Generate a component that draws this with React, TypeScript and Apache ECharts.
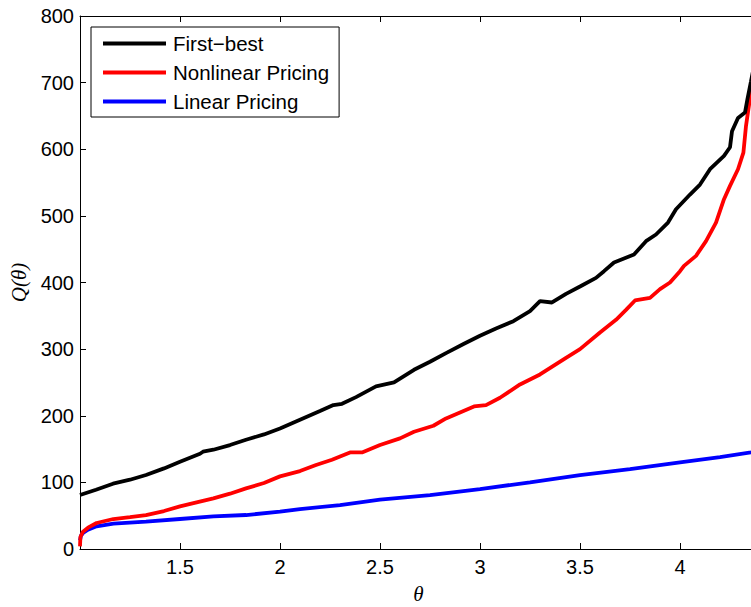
import React, { useEffect, useRef } from "react";
import * as echarts from "echarts";

const thetaFirstBest = [1.0, 1.08, 1.165, 1.25, 1.33, 1.42, 1.5, 1.6, 1.615, 1.667, 1.75, 1.83, 1.92, 2.0, 2.1, 2.2, 2.267, 2.31, 2.38, 2.48, 2.57, 2.67, 2.75, 2.83, 2.92, 3.0, 3.08, 3.167, 3.25, 3.3, 3.36, 3.43, 3.5, 3.58, 3.62, 3.67, 3.72, 3.77, 3.83, 3.88, 3.94, 3.98, 4.05, 4.1, 4.15, 4.22, 4.25, 4.26, 4.29, 4.325, 4.337, 4.355, 4.37];
const qFirstBest = [81, 89, 98, 104, 111, 121, 131, 143, 146, 149, 156, 164, 172, 181, 194, 207, 216, 218, 228, 244, 250, 269, 281, 294, 308, 320, 331, 342, 357, 372, 370, 383, 394, 407, 417, 430, 436, 442, 462, 472, 490, 510, 532, 547, 570, 590, 603, 627, 647, 655, 675, 702, 725];

const thetaNonlinear = [1.0, 1.002, 1.015, 1.04, 1.083, 1.167, 1.25, 1.33, 1.42, 1.5, 1.583, 1.667, 1.75, 1.83, 1.92, 2.0, 2.1, 2.18, 2.26, 2.35, 2.41, 2.5, 2.6, 2.67, 2.767, 2.83, 2.97, 3.03, 3.1, 3.2, 3.3, 3.43, 3.5, 3.6, 3.68, 3.73, 3.775, 3.85, 3.9, 3.95, 4.0, 4.02, 4.08, 4.13, 4.18, 4.22, 4.25, 4.29, 4.317, 4.33, 4.342, 4.355, 4.37];
const qNonlinear = [4, 18, 26, 32, 39, 45, 48, 51, 57, 64, 70, 76, 83, 91, 99, 109, 117, 126, 134, 145, 145, 156, 166, 176, 185, 196, 214, 216, 227, 247, 262, 287, 300, 325, 344, 359, 373, 377, 390, 400, 417, 425, 440, 462, 490, 525, 545, 570, 595, 635, 660, 686, 710];

const thetaLinear = [1.0, 1.005, 1.015, 1.04, 1.083, 1.167, 1.33, 1.5, 1.667, 1.83, 2.0, 2.1, 2.3, 2.5, 2.75, 3.0, 3.25, 3.5, 3.75, 4.0, 4.2, 4.355, 4.37];
const qLinear = [13, 20, 24, 29, 34, 38, 41, 45, 49, 51, 56, 60, 66, 74, 81, 90, 100, 111, 120, 130, 138, 145, 146];

const seriesNames = ["First\u2212best", "Nonlinear Pricing", "Linear Pricing"];
const seriesColors = ["#000000", "#ff0000", "#0000ff"];

const X_MIN = 1;
const X_MAX = 4.385;
const X_INTERVAL = 0.5;
const Y_MIN = 0;
const Y_MAX = 800;
const Y_INTERVAL = 100;

const pairs = (xs: number[], ys: number[]) => xs.map((x, i) => [x, ys[i]]);

const FONT = "Liberation Sans, Arial, Helvetica, sans-serif";
const SERIF = "Liberation Serif, DejaVu Serif, serif";

export default function App() {
  const ref = useRef<HTMLDivElement>(null);
  useEffect(() => {
    if (!ref.current) return;
    const chart = echarts.init(ref.current, undefined, { renderer: "svg" });
    const axisCommon = {
      axisLine: { show: true, onZero: false, lineStyle: { color: "#000", width: 1 } },
      axisTick: { show: true, inside: true, length: 6, lineStyle: { color: "#000", width: 1 } },
      splitLine: { show: false },
    };
    const dataSets = [
      pairs(thetaFirstBest, qFirstBest),
      pairs(thetaNonlinear, qNonlinear),
      pairs(thetaLinear, qLinear),
    ];
    chart.setOption({
      animation: false,
      backgroundColor: "#fff",
      grid: { left: 80, top: 16, bottom: 58, right: -6, containLabel: false, outerBoundsMode: "none" },
      legend: {
        orient: "vertical",
        left: 91,
        top: 27,
        backgroundColor: "#fff",
        borderColor: "#000",
        borderWidth: 1,
        borderRadius: 0,
        padding: [6, 10, 5, 12],
        itemGap: 8,
        itemWidth: 63,
        itemHeight: 4,
        icon: "rect",
        data: seriesNames,
        textStyle: { fontFamily: FONT, fontSize: 20.5, color: "#000", lineHeight: 20, padding: [0, 0, 0, 2] },
      },
      xAxis: [
        {
          type: "value",
          min: X_MIN,
          max: X_MAX,
          interval: X_INTERVAL,
          position: "bottom",
          name: "\u03b8",
          nameLocation: "middle",
          nameGap: 34,
          nameTextStyle: { fontFamily: SERIF, fontStyle: "italic", fontSize: 21, color: "#000" },
          ...axisCommon,
          axisLabel: {
            show: true,
            showMinLabel: false,
            showMaxLabel: false,
            margin: 8,
            fontFamily: FONT,
            fontSize: 20,
            color: "#000",
          },
        },
        {
          type: "value",
          min: X_MIN,
          max: X_MAX,
          interval: X_INTERVAL,
          position: "top",
          ...axisCommon,
          axisLabel: { show: false },
        },
      ],
      yAxis: [
        {
          type: "value",
          min: Y_MIN,
          max: Y_MAX,
          interval: Y_INTERVAL,
          position: "left",
          name: "Q(\u03b8)",
          nameLocation: "middle",
          nameGap: 46,
          nameRotate: 90,
          nameTextStyle: { fontFamily: SERIF, fontStyle: "italic", fontSize: 21, color: "#000" },
          ...axisCommon,
          axisLabel: { show: true, margin: 6, fontFamily: FONT, fontSize: 20, color: "#000" },
        },
        {
          type: "value",
          min: Y_MIN,
          max: Y_MAX,
          interval: Y_INTERVAL,
          position: "right",
          ...axisCommon,
          axisLabel: { show: false },
        },
      ],
      series: seriesNames.map((name, i) => ({
        name,
        type: "line",
        xAxisIndex: 0,
        yAxisIndex: 0,
        data: dataSets[i],
        showSymbol: false,
        symbol: "none",
        clip: true,
        lineStyle: { color: seriesColors[i], width: 3.8 },
        itemStyle: { color: seriesColors[i] },
        z: 3 - i,
      })),
    });
    return () => chart.dispose();
  }, []);
  return (
    <div
      ref={ref}
      style={{ position: "absolute", left: 0, top: 0, width: 751, height: 607 }}
    />
  );
}
